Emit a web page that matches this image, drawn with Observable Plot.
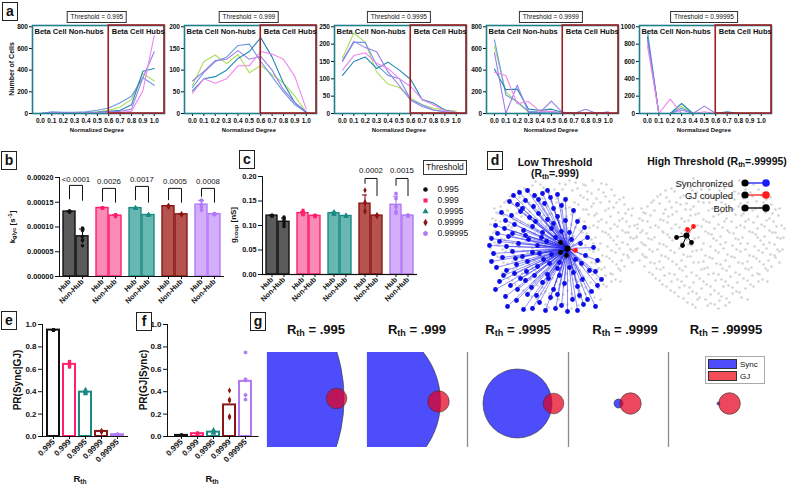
<!DOCTYPE html>
<html>
<head>
<meta charset="utf-8">
<script src="https://cdn.jsdelivr.net/npm/d3@7"></script>
<script src="https://cdn.jsdelivr.net/npm/@observablehq/plot@0.6"></script>
<style>
html,body{margin:0;padding:0;background:#fff;}
#fig{position:relative;width:787px;height:487px;overflow:hidden;font-family:"Liberation Sans",Arial,Helvetica,sans-serif;color:#111;}
#fig svg{overflow:visible;}
.lbl{position:absolute;white-space:nowrap;}
.letter{position:absolute;border:1.3px solid #222;font-weight:bold;font-size:14px;width:14px;height:17px;line-height:17px;text-align:center;}
.rot{position:absolute;white-space:nowrap;transform:translate(-50%,-50%) rotate(-90deg);font-weight:bold;}
.cen{position:absolute;white-space:nowrap;transform:translate(-50%,-50%);}
.rgt{position:absolute;white-space:nowrap;transform:translate(-100%,-50%);}
sub{font-size:70%;vertical-align:-0.25em;}
sup{font-size:70%;vertical-align:0.45em;}
</style>
</head>
<body>
<div id="fig"></div>
<script>
// ---------------- DATA ----------------
const thresholds = ["0.995", "0.999", "0.9995", "0.9999", "0.99995"];
const thresholdsShort = [".995", ".999", ".9995", ".9999", ".99995"];
const degreeBins = [0, 0.1, 0.2, 0.3, 0.4, 0.5, 0.6, 0.7, 0.8, 0.9, 1.0];
const hubCutoff = 0.6;
const regionLabels = ["Beta Cell Non-hubs", "Beta Cell Hubs"];

// panel a: number of cells per normalized-degree bin, one row per islet
const counts995 = [
  [0, 5, 5, 5, 10, 15, 30, 60, 130, 370, 300],
  [0, 15, 10, 10, 15, 30, 50, 100, 160, 330, 260],
  [0, 5, 5, 5, 5, 10, 20, 30, 80, 390, 415],
  [0, 5, 5, 5, 5, 10, 15, 20, 40, 330, 570],
  [0, 5, 5, 5, 5, 5, 5, 10, 20, 210, 720]
];
const counts999 = [
  [65, 120, 135, 115, 136, 94, 111, 90, 70, 40, 3],
  [60, 95, 120, 130, 157, 160, 120, 85, 50, 20, 3],
  [52, 80, 85, 100, 127, 143, 175, 130, 70, 25, 2],
  [75, 97, 122, 125, 145, 125, 132, 100, 55, 25, 4],
  [47, 80, 70, 80, 110, 110, 143, 137, 125, 85, 10]
];
const counts9995 = [
  [160, 232, 205, 120, 85, 75, 45, 25, 15, 10, 7],
  [150, 205, 205, 140, 110, 100, 40, 25, 10, 5, 2],
  [110, 150, 163, 130, 148, 125, 98, 40, 30, 10, 3],
  [153, 208, 190, 178, 120, 80, 38, 20, 10, 5, 2],
  [125, 167, 175, 145, 130, 100, 78, 40, 25, 8, 3]
];
const counts9999 = [
  [620, 200, 100, 10, 30, 15, 10, 5, 0, 0, 0],
  [680, 170, 110, 20, 10, 15, 5, 0, 0, 0, 0],
  [410, 220, 225, 40, 30, 40, 10, 5, 0, 0, 0],
  [560, 0, 260, 10, 10, 115, 5, 0, 40, 0, 15],
  [380, 350, 90, 110, 20, 20, 5, 0, 0, 0, 10]
];
const counts99995 = [
  [900, 0, 0, 80, 0, 0, 0, 5, 0, 0, 0],
  [950, 0, 0, 60, 0, 0, 0, 0, 0, 0, 0],
  [880, 0, 0, 115, 0, 0, 0, 20, 0, 0, 0],
  [850, 0, 0, 40, 0, 85, 0, 0, 0, 0, 0],
  [780, 0, 165, 0, 0, 20, 0, 0, 0, 0, 0]
];
const ticks995 = [0, 200, 400, 600, 800];
const ticks999 = [0, 50, 100, 150, 200];
const ticks9995 = [0, 50, 100, 150, 200, 250];
const ticks9999 = [0, 200, 400, 600, 800];
const ticks99995 = [0, 200, 400, 600, 800, 1000];

// panel b: k_glyc per islet
const groups = ["Hub", "Non-Hub"];
const kglycHub = [
  [0.000132, 0.000131, 0.000130, 0.000131, 0.000132],
  [0.000139, 0.000138, 0.000138, 0.000139, 0.000138],
  [0.000139, 0.000138, 0.000139, 0.000137, 0.000138],
  [0.000143, 0.000141, 0.000142, 0.000143, 0.000141],
  [0.000154, 0.000153, 0.000145, 0.000134, 0.000140]
];
const kglycNonHub = [
  [0.000098, 0.000093, 0.000080, 0.000073, 0.000062],
  [0.000125, 0.000122, 0.000123, 0.000121, 0.000124],
  [0.000125, 0.000123, 0.000124, 0.000124, 0.000125],
  [0.000126, 0.000125, 0.000126, 0.000126, 0.000125],
  [0.000127, 0.000126, 0.000125, 0.000126, 0.000126]
];
const kglycP = ["<0.0001", "0.0026", "0.0017", "0.0005", "0.0008"];
const kglycBracketTop = [0.000184, 0.000178, 0.000182, 0.000178, 0.000178];
const kglycLegHub = [0.000157, 0.000152, 0.000155, 0.000155, 0.000162];
const kglycLegNon = [0.000154, 0.000150, 0.000150, 0.000150, 0.000150];
const kglycPY = [0.000195, 0.000191, 0.000195, 0.000191, 0.000191];
const kglycTicks = [0, 0.00005, 0.0001, 0.00015, 0.0002];

// panel c: g_coup per islet
const gcoupHub = [
  [0.121, 0.120, 0.119, 0.120, 0.121],
  [0.131, 0.124, 0.122, 0.126, 0.123],
  [0.128, 0.124, 0.126, 0.122, 0.125],
  [0.172, 0.148, 0.145, 0.128, 0.130],
  [0.165, 0.155, 0.138, 0.125, 0.128]
];
const gcoupNonHub = [
  [0.117, 0.108, 0.103, 0.098, 0.112],
  [0.120, 0.119, 0.121, 0.118, 0.120],
  [0.119, 0.120, 0.118, 0.121, 0.119],
  [0.121, 0.120, 0.119, 0.120, 0.121],
  [0.121, 0.120, 0.119, 0.121, 0.120]
];
const gcoupP = [null, null, null, "0.0002", "0.0015"];
const gcoupBracketTop = [0, 0, 0, 0.196, 0.196];
const gcoupLegHub = [0, 0, 0, 0.186, 0.182];
const gcoupLegNon = [0, 0, 0, 0.161, 0.161];
const gcoupPY = [0, 0, 0, 0.213, 0.213];
const gcoupTicks = [0, 0.05, 0.10, 0.15, 0.20];

// panel e, f
const prSyncGivenGJ = [
  [0.950, 0.952, 0.948, 0.951, 0.949],
  [0.66, 0.64, 0.62, 0.63, 0.67],
  [0.42, 0.39, 0.38, 0.39, 0.40],
  [0.050, 0.040, 0.045, 0.050, 0.040],
  [0.015, 0.020, 0.010, 0.015, 0.020]
];
const prGJGivenSync = [
  [0.010, 0.010, 0.012, 0.008, 0.010],
  [0.020, 0.030, 0.025, 0.020, 0.030],
  [0.060, 0.040, 0.030, 0.035, 0.030],
  [0.41, 0.32, 0.18, 0.17, 0.33],
  [0.75, 0.51, 0.37, 0.33, 0.50]
];
const prTicks = [0, 0.2, 0.4, 0.6, 0.8, 1.0];

// panel d: islet cells (x, y in network-plot units)
const cells = [
  [48,6],[59,3],[72,8],[82,5],[96,9],[105,5],[37,13],[45,10],[56,12],[67,14],[78,9],[90,13],[98,10],[111,14],[119,9],
  [26,19],[40,16],[49,20],[62,17],[71,19],[85,15],[93,20],[104,18],[116,17],[127,20],
  [19,25],[32,22],[42,27],[55,23],[64,26],[79,22],[87,27],[100,24],[109,23],[122,26],[132,24],
  [13,31],[25,28],[37,32],[46,29],[59,31],[69,27],[82,32],[91,29],[104,31],[113,27],[126,32],[137,29],
  [9,37],[20,35],[29,38],[42,36],[51,34],[64,38],[74,35],[87,37],[96,34],[109,38],[118,35],[131,37],[141,34],
  [5,43],[16,40],[26,44],[34,41],[47,43],[56,40],[69,44],[79,41],[92,43],[101,39],[114,44],[123,41],[135,43],[144,40],
  [3,49],[13,46],[21,50],[33,47],[41,49],[54,45],[63,50],[75,47],[84,49],[97,46],[106,50],[119,47],[127,49],[139,46],[147,50],
  [8,55],[16,52],[28,56],[37,53],[50,55],[59,51],[71,56],[80,53],[93,55],[102,52],[115,56],[123,53],[135,55],[142,51],
  [2,61],[12,58],[20,62],[33,59],[42,61],[55,57],[64,62],[77,59],[86,61],[99,58],[108,62],[121,59],[130,61],[141,57],[149,62],
  [7,67],[17,64],[25,68],[38,65],[47,67],[60,63],[69,68],[82,65],[91,67],[104,64],[113,68],[126,65],[135,67],[146,63],
  [3,73],[11,70],[23,74],[32,71],[45,73],[54,69],[67,74],[76,71],[89,73],[98,70],[111,74],[120,71],[132,73],[140,69],[148,74],
  [8,79],[18,76],[27,80],[40,77],[49,79],[62,75],[71,80],[84,77],[93,79],[106,76],[115,80],[128,77],[136,79],[145,76],
  [5,85],[12,82],[25,86],[34,83],[47,85],[56,81],[69,86],[78,83],[91,85],[100,82],[113,86],[122,83],[134,85],[141,82],
  [10,91],[20,88],[29,92],[42,89],[51,91],[64,87],[73,92],[86,89],[95,91],[108,88],[117,92],[129,89],[137,91],
  [15,97],[26,94],[35,98],[48,95],[57,97],[70,93],[79,98],[92,95],[101,97],[114,94],[123,98],[133,95],
  [21,103],[30,100],[43,104],[52,101],[65,103],[74,99],[87,104],[96,101],[109,103],[118,100],[128,104],
  [28,109],[37,106],[50,110],[59,107],[72,109],[81,105],[94,110],[103,107],[116,109],[124,106],
  [36,115],[45,112],[58,116],[67,113],[80,115],[89,111],[102,116],[111,113],
  [44,121],[54,118],[65,122],[76,119],[87,121],[98,118],[107,122],
  [53,127],[63,124],[76,128],[85,125],[95,127],[61,132],[73,130],[84,133],
  [53,9],[88,7],[114,8],[31,15],[58,15],[75,14],[100,16],[124,14],
  [23,21],[46,22],[69,23],[96,22],[118,21],[136,22],[17,27],[35,26],[52,28],[75,27],[106,28],[129,27],
  [7,33],[31,34],[56,34],[78,33],[99,34],[121,33],[145,33],[11,38],[38,39],[61,39],[84,39],[107,40],[138,38],
  [8,45],[29,45],[50,46],[72,46],[90,46],[111,46],[132,45],[24,52],[45,52],[67,51],[88,52],[110,52],[130,51],[150,53],
  [6,57],[29,57],[47,58],[74,58],[95,57],[118,57],[138,57],[14,63],[35,62],[52,64],[79,63],[101,63],[123,62],[143,62],
  [9,69],[29,69],[57,70],[86,69],[106,68],[129,69],[15,74],[36,75],[58,76],[81,75],[102,74],[124,75],[143,74],
  [10,81],[31,81],[53,81],[75,82],[97,81],[119,81],[140,80],[16,87],[38,86],[59,87],[82,88],[104,87],[125,86],[145,87],
  [22,93],[45,93],[67,94],[88,93],[111,93],[131,93],[18,99],[40,99],[62,100],[84,99],[105,99],[125,99],
  [25,105],[47,106],[69,106],[91,106],[113,105],[133,106],[32,111],[55,112],[76,111],[98,112],[119,111],
  [40,117],[62,118],[84,118],[105,117],[49,123],[71,124],[92,123],[113,124],[58,129],[80,129],[91,130]
];
// low threshold (R_th = .999): hub and its partners
const lowHub = [80, 73];
const lowSync = [
  [32,17],[40,15],[47,20],[55,18],[63,22],[70,19],[78,24],[22,26],[30,29],[38,25],[46,31],[57,28],[66,33],[74,30],[86,35],
  [14,37],[24,40],[33,36],[42,42],[51,38],[60,44],[70,41],[90,46],[97,52],[8,50],[17,53],[27,49],[36,55],[45,51],[55,57],
  [64,53],[82,57],[100,62],[4,63],[12,66],[21,61],[31,68],[41,64],[50,70],[59,66],[68,62],[93,68],[106,72],[6,78],[15,82],
  [25,76],[35,81],[45,77],[56,84],[64,79],[98,80],[110,85],[9,92],[19,95],[29,89],[39,96],[50,91],[60,99],[70,93],[86,97],
  [102,95],[114,104],[12,106],[23,110],[33,103],[44,112],[55,107],[66,114],[77,108],[90,111],[104,116],[18,121],[29,125],
  [40,119],[52,127],[63,122],[74,130],[85,124],[96,129],[108,131],[36,134],[58,135],[80,136],[47,100],[72,87],[88,84],
  [26,20],[51,24],[60,15],[35,33],[18,45],[48,46],[66,48],[78,45],[10,58],[25,58],[38,60],[54,62],[74,56],[84,64],
  [2,70],[19,71],[28,83],[40,86],[52,78],[62,88],[82,92],[94,88],[108,96],[4,86],[16,100],[27,98],[38,105],[61,103],
  [72,100],[95,104],[110,110],[8,114],[30,114],[49,120],[70,119],[92,120],[100,124],[20,131],[45,133],[68,133],[90,135]
];
const lowBoth = [[73, 67], [73, 77], [79, 80]];
const lowGJ = [[88, 75]];
// high threshold (R_th = .99995)
const highHub = [52, 60];
const highSync = [];
const highBoth = [[42, 62], [48, 70], [57, 67]];
const highGJ = [[53, 54], [59, 51]];

// panel g: venn diagrams (units of the diagram box, 100 x 95)
const vennSyncX = [-78, -6, 50, 50, 50];
const vennSyncR = [154.6, 79, 34.5, 4.5, 1.5];
const vennGjX = [69, 71, 86, 62, 61];
const vennGjR = [10.3, 10.7, 10.3, 10.7, 10.8];
const vennY = [46, 49, 51, 51, 51];

// ---------------- STYLE ----------------
const isletColors = ["#a9dd5c", "#6b98ea", "#1f89b2", "#9a7ee6", "#ef85ee"];
const nonHubColor = "#1f7f8c";
const hubColor = "#a01e26";
const thrStrokes = ["#111111", "#ff1f6e", "#1a8a84", "#8c1616", "#b279f5"];
const thrFills = ["#5b5b5b", "#fa8ab6", "#67b7b2", "#b5534f", "#d4aefb"];
const thrDots = ["#111111", "#ff1f6e", "#1a8a84", "#8c1616", "#b279f5"];
const thrSymbols = ["circle", "square", "triangle", "diamond", "hexagon"];
const font = '"Liberation Sans", Arial, sans-serif';
const baseStyle = {fontFamily: font, background: "transparent", color: "#111", overflow: "visible"};

const fig = document.getElementById("fig");
function put(node, left, top) {
  node.style.position = "absolute";
  node.style.left = left + "px";
  node.style.top = top + "px";
  fig.appendChild(node);
  return node;
}
function label(html, left, top, cls, css) {
  const d = document.createElement("div");
  d.className = cls || "lbl";
  d.innerHTML = html;
  if (css) d.style.cssText += css;
  d.style.left = left + "px";
  d.style.top = top + "px";
  fig.appendChild(d);
  return d;
}

// ---------------- PANEL A ----------------
const aXDomain = [-0.07, 1.09];
const aSeries = [counts995, counts999, counts9995, counts9999, counts99995];
const aTicks = [ticks995, ticks999, ticks9995, ticks9999, ticks99995];
const aLeft = [32, 184, 334, 486, 639];
aSeries.forEach((counts, s) => {
  const rows = counts.flatMap((arr, k) => arr.map((c, j) => ({islet: k, degree: degreeBins[j], count: c})));
  const top = d3.max(aTicks[s]) * 1.015;
  const mL = 30, mR = 4, mT = 2, mB = 14, fw = 132, fh = 88;
  const chart = Plot.plot({
    width: fw + mL + mR, height: fh + mT + mB,
    marginLeft: mL, marginRight: mR, marginTop: mT, marginBottom: mB,
    style: {...baseStyle, fontSize: "6.5px", fontWeight: "bold"},
    color: {type: "identity"},
    x: {domain: aXDomain, ticks: degreeBins, tickFormat: d3.format(".1f"), tickSize: 3, tickPadding: 1.5, label: null},
    y: {domain: [0, top], ticks: aTicks[s], tickFormat: d3.format("d"), tickSize: 3, tickPadding: 1.5, label: null},
    marks: [
      Plot.line(rows, {x: "degree", y: "count", z: "islet", stroke: d => isletColors[d.islet], strokeWidth: 1.1}),
      Plot.frame({stroke: nonHubColor, strokeWidth: 1.6}),
      Plot.rect([hubCutoff], {x1: d => d, x2: () => aXDomain[1], y1: () => 0, y2: () => top, fill: "none", stroke: hubColor, strokeWidth: 1.6}),
      Plot.text([regionLabels[0]], {text: d => d, frameAnchor: "top-left", textAnchor: "start", lineAnchor: "top", dx: 2, dy: 3, fontSize: 7.5}),
      Plot.text([regionLabels[1]], {text: d => d, x: () => hubCutoff, frameAnchor: "top", textAnchor: "start", lineAnchor: "top", dx: 3, dy: 3, fontSize: 7.5})
    ]
  });
  put(chart, aLeft[s] - mL, 25 - mT);
  const cx = aLeft[s] + (0.5 - aXDomain[0]) / (aXDomain[1] - aXDomain[0]) * fw;
  label("Threshold = " + thresholds[s], cx, 17, "cen",
    "border:1px solid #333;padding:0 3px;font-size:6.5px;line-height:10px;background:#fff;");
  label("Normalized Degree", cx, 130, "cen", "font-size:6px;font-weight:bold;");
});
label("Number of Cells", 11, 69, "rot", "font-size:7px;");

// ---------------- PANELS B, C ----------------
function hubPanel(o) {
  const pts = [], summ = [];
  thresholds.forEach((t, i) => {
    [["Hub", o.hub[i]], ["Non-Hub", o.non[i]]].forEach(([g, vals]) => {
      vals.forEach(v => pts.push({thr: t, i, group: g, value: v}));
      summ.push({thr: t, i, group: g, mean: d3.mean(vals), sd: d3.deviation(vals)});
    });
  });
  const brackets = [], plabels = [];
  thresholds.forEach((t, i) => {
    if (!o.pvals[i]) return;
    brackets.push({thr: t, group: "Hub", y: o.legH[i]}, {thr: t, group: "Hub", y: o.tops[i]},
                  {thr: t, group: "Non-Hub", y: o.tops[i]}, {thr: t, group: "Non-Hub", y: o.legN[i]});
    plabels.push({thr: t, y: o.pY[i], p: o.pvals[i]});
  });
  const po = (o.facetStep / o.xStep - (2 - o.padInner)) / 2;
  const chart = Plot.plot({
    width: o.mL + 5 * o.facetStep + 5, height: o.height,
    marginLeft: o.mL, marginRight: 5, marginTop: o.mT, marginBottom: o.mB,
    style: {...baseStyle, fontSize: o.fontSize, fontWeight: "bold"},
    color: {type: "identity"},
    fx: {domain: thresholds, padding: 0, axis: null, label: null},
    x: {domain: groups, paddingInner: o.padInner, paddingOuter: po, tickRotate: -45, tickSize: 3, tickPadding: 1, label: null},
    y: {domain: o.yDomain, ticks: o.ticks, tickFormat: o.fmt, tickSize: 4, tickPadding: 2, label: null, line: true},
    marks: [
      Plot.barY(summ, {fx: "thr", x: "group", y: "mean", fill: d => thrFills[d.i], stroke: d => thrStrokes[d.i], strokeWidth: 1.4}),
      Plot.ruleX(summ, {fx: "thr", x: "group", y1: d => d.mean - d.sd, y2: d => d.mean + d.sd, stroke: d => thrStrokes[d.i], strokeWidth: 1.1}),
      Plot.tickY(summ, {fx: "thr", x: "group", y: d => d.mean + d.sd, stroke: d => thrStrokes[d.i], strokeWidth: 1.1, insetLeft: 3, insetRight: 3}),
      ...thresholds.map((t, i) => Plot.dot(pts.filter(d => d.i === i),
        {fx: "thr", x: "group", y: "value", symbol: thrSymbols[i], fill: thrDots[i], r: 1.8})),
      Plot.ruleY([0], {strokeWidth: 1.2}),
      Plot.line(brackets, {fx: "thr", x: "group", y: "y", z: "thr", stroke: "#111", strokeWidth: 1}),
      Plot.text(plabels, {fx: "thr", y: "y", text: "p", frameAnchor: "middle", fontSize: 7.8, fontWeight: "normal"})
    ]
  });
  put(chart, o.left, o.top);
}
hubPanel({hub: kglycHub, non: kglycNonHub, pvals: kglycP, tops: kglycBracketTop, legH: kglycLegHub, legN: kglycLegNon, pY: kglycPY,
  yDomain: [0, 0.0002], ticks: kglycTicks, fmt: d3.format(".5f"), fontSize: "7.3px",
  left: 0, top: 168, mL: 58, mT: 9, mB: 29, height: 137, facetStep: 33.5, xStep: 13.5, padInner: 0.1});
hubPanel({hub: gcoupHub, non: gcoupNonHub, pvals: gcoupP, tops: gcoupBracketTop, legH: gcoupLegHub, legN: gcoupLegNon, pY: gcoupPY,
  yDomain: [0, 0.2], ticks: gcoupTicks, fmt: d3.format(".2f"), fontSize: "7.3px",
  left: 222, top: 160, mL: 40, mT: 16, mB: 31, height: 145, facetStep: 31, xStep: 12.5, padInner: 0.12});
label("k<sub>glyc</sub> [s<sup>-1</sup>]", 12, 227, "rot", "font-size:8px;");
label("g<sub>coup</sub> [nS]", 234, 225, "rot", "font-size:8px;");

// threshold legend
label("Threshold", 423, 160, "lbl", "border:1px solid #333;padding:1px 2px;font-size:8.5px;line-height:11px;");
{
  const legend = Plot.plot({
    width: 50, height: 70, margin: 0,
    style: {...baseStyle, fontSize: "8.5px"},
    y: {type: "point", domain: thresholds, range: [7, 62], axis: null},
    marks: [
      ...thresholds.map((t, i) => Plot.dot([t], {y: d => d, frameAnchor: "left", dx: 5, symbol: thrSymbols[i], fill: thrDots[i], r: 2.3})),
      Plot.text(thresholds, {y: d => d, text: d => d, frameAnchor: "left", dx: 17, textAnchor: "start"})
    ]
  });
  put(legend, 420, 176);
}

// ---------------- PANEL D ----------------
function netPanel(left, hub, sync, both, gj) {
  const from = {x1: () => hub[0], y1: () => hub[1], x2: d => d[0], y2: d => d[1]};
  const chart = Plot.plot({
    width: 150, height: 135, margin: 0,
    style: baseStyle,
    x: {domain: [0, 150], range: [0, 150], axis: null},
    y: {domain: [0, 135], range: [0, 135], axis: null},
    marks: [
      Plot.dot(cells, {x: d => d[0], y: d => d[1], r: 1.3, fill: "#d2d2d2"}),
      Plot.link(sync, {...from, stroke: "#2323f0", strokeWidth: 0.6, strokeOpacity: 0.85}),
      Plot.link(both, {...from, stroke: "#000", strokeWidth: 1}),
      Plot.link(gj, {...from, stroke: "#ff1a1a", strokeWidth: 1}),
      Plot.dot(sync, {x: d => d[0], y: d => d[1], r: 2.4, fill: "#0d0de8"}),
      Plot.dot(both, {x: d => d[0], y: d => d[1], r: 2.4, fill: "#000"}),
      Plot.dot(gj, {x: d => d[0], y: d => d[1], r: 2.4, fill: "#ff1a1a"}),
      Plot.dot([hub], {x: d => d[0], y: d => d[1], r: 3, fill: "#000"})
    ]
  });
  put(chart, left, 175);
}
netPanel(487, lowHub, lowSync, lowBoth, lowGJ);
netPanel(634, highHub, highSync, highBoth, highGJ);
label("Low Threshold", 555, 162, "cen", "font-size:10.5px;font-weight:bold;");
label("(R<sub>th</sub>=.999)", 555, 174, "cen", "font-size:10.5px;font-weight:bold;");
label("High Threshold (R<sub>th</sub>=.99995)", 717, 162, "cen", "font-size:10.5px;font-weight:bold;");
[["Synchronized", "#1a1aff", 183], ["GJ coupled", "#ff1a1a", 195], ["Both", "#000", 208]].forEach(([t, c, y]) => {
  label(t, 733, y, "rgt", "font-size:9.5px;");
  label(`<svg width="30" height="10"><line x1="4" y1="5" x2="25" y2="5" stroke="${c}" stroke-width="1.3"/><circle cx="4" cy="5" r="3.6" fill="#000"/><circle cx="25" cy="5" r="3.8" fill="${c}"/></svg>`,
    741, y - 5, "lbl", "line-height:0;");
});

// ---------------- PANELS E, F ----------------
function prPanel(o) {
  const pts = thresholds.flatMap((t, i) => o.values[i].map(v => ({thr: t, i, value: v})));
  const summ = thresholds.map((t, i) => ({thr: t, i, mean: d3.mean(o.values[i])}));
  const chart = Plot.plot({
    width: o.mL + o.range + 5, height: 173,
    marginLeft: o.mL, marginRight: 5, marginTop: 10, marginBottom: 51,
    style: {...baseStyle, fontSize: "8px", fontWeight: "bold"},
    color: {type: "identity"},
    x: {domain: thresholds, paddingInner: 0.25, paddingOuter: o.po, tickRotate: -45, tickSize: 3, tickPadding: 1, label: null},
    y: {domain: [0, 1], ticks: prTicks, tickFormat: d3.format(".1f"), tickSize: 4, tickPadding: 2, label: null, line: true},
    marks: [
      Plot.barY(summ, {x: "thr", y: "mean", fill: "white", stroke: d => thrStrokes[d.i], strokeWidth: 2}),
      ...thresholds.map((t, i) => Plot.dot(pts.filter(d => d.i === i), {x: "thr", y: "value", symbol: thrSymbols[i], fill: thrDots[i], r: 1.8})),
      Plot.ruleY([0], {strokeWidth: 1.2})
    ]
  });
  put(chart, o.left, 314);
}
prPanel({values: prSyncGivenGJ, left: 0, mL: 42, range: 86, po: 0.31});
prPanel({values: prGJGivenSync, left: 125, mL: 42, range: 91.5, po: 0.44});
label("PR(Sync|GJ)", 17, 380, "rot", "font-size:10px;");
label("PR(GJ|Sync)", 143, 380, "rot", "font-size:10px;");
label("R<sub>th</sub>", 80, 479, "cen", "font-size:9.5px;font-weight:bold;");
label("R<sub>th</sub>", 212, 479, "cen", "font-size:9.5px;font-weight:bold;");

// ---------------- PANEL G ----------------
const gLeft = [267, 367, 467, 568, 668];
const gTitleX = [316, 417, 518, 625, 726];
thresholds.forEach((t, i) => {
  const chart = Plot.plot({
    width: 100, height: 95, margin: 0,
    style: baseStyle,
    x: {domain: [0, 100], range: [0, 100], axis: null},
    y: {domain: [0, 95], range: [0, 95], axis: null},
    marks: [
      Plot.ruleX([0], {stroke: "#8a8a8a", strokeWidth: 1.3}),
      Plot.dot([i], {x: j => vennSyncX[j], y: j => vennY[j], r: vennSyncR[i], fill: "#4d4dfc", stroke: "#333", strokeWidth: 0.6, clip: true}),
      Plot.dot([i], {x: j => vennGjX[j], y: j => vennY[j], r: vennGjR[i], fill: "#e6001e", fillOpacity: 0.72, stroke: "#333", strokeWidth: 0.6, clip: true})
    ]
  });
  put(chart, gLeft[i], 352);
  label("R<sub>th</sub> = " + thresholdsShort[i], gTitleX[i], 330, "cen", "font-size:13px;font-weight:bold;");
});
label(`<div style="display:flex;align-items:center;gap:3px;height:12px"><span style="display:inline-block;width:27px;height:8px;background:#4d4dfc;border:1px solid #333"></span>Sync</div>
<div style="display:flex;align-items:center;gap:3px;height:12px"><span style="display:inline-block;width:27px;height:8px;background:#f24e57;border:1px solid #333"></span>GJ</div>`,
  705, 356, "lbl", "border:1px solid #aaa;padding:1px 4px 1px 2px;font-size:8px;width:52px;");

// ---------------- PANEL LETTERS ----------------
[["a", 2, 2], ["b", 1, 151], ["c", 239, 150], ["d", 487, 151], ["e", 1, 311], ["f", 136, 312], ["g", 250, 312]].forEach(([t, x, y]) => {
  label(t, x, y, "letter");
});
</script>
</body>
</html>
